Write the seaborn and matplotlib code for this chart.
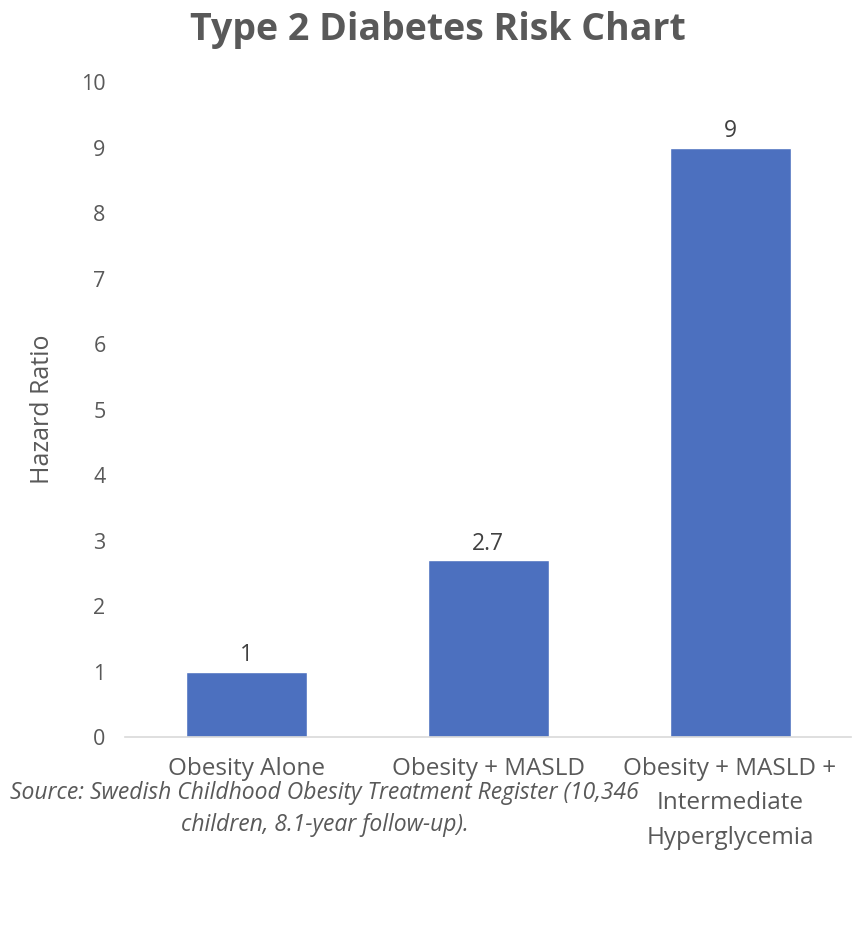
import matplotlib
matplotlib.use("Agg")
import matplotlib.pyplot as plt
import seaborn as sns
import pandas as pd

categories = ["Obesity Alone", "Obesity + MASLD", "Obesity + MASLD +\nIntermediate\nHyperglycemia"]
hazard_ratios = [1, 2.7, 9]
value_labels = ["1", "2.7", "9"]
yticks = list(range(0, 11))

sns.set_theme(style="white")
plt.rcParams['font.family'] = ['Open Sans', 'DejaVu Sans']

df = pd.DataFrame({"cat": categories, "hr": hazard_ratios})

fig = plt.figure(figsize=(8.64, 9.26), dpi=100)
ax = fig.add_axes([0.1447, 0.204, 0.8403, 0.7074])
sns.barplot(data=df, x="cat", y="hr", color="#4C70BF", saturation=1, width=0.5, ax=ax)

ax.set_xlim(-0.5, 2.5)
ax.set_ylim(0, 10)
ax.set_yticks(yticks)
ax.set_yticklabels([str(t) for t in yticks], fontsize=15.5, color="#595959")
ax.tick_params(axis='y', length=0, pad=14)
ax.tick_params(axis='x', length=0, pad=14, labelsize=17.5, labelcolor="#595959")
ax.set_xlabel("")
ax.set_ylabel("Hazard Ratio", fontsize=18, color="#595959")
ax.yaxis.set_label_coords(-0.097, 0.5)
for s in ["top", "right", "left"]:
    ax.spines[s].set_visible(False)
ax.spines["bottom"].set_color("#D9D9D9")
ax.spines["bottom"].set_linewidth(1.2)
for lbl in ax.get_xticklabels():
    lbl.set_linespacing(1.6)

for i, (v, t) in enumerate(zip(hazard_ratios, value_labels)):
    ax.annotate(t, (i, v), xytext=(0, 3), textcoords="offset points",
                ha="center", va="bottom", fontsize=16.5, color="#404040")

fig.text(0.507, 0.988, "Type 2 Diabetes Risk Chart", ha="center", va="top",
         fontsize=27, fontweight="bold", color="#595959")

fig.text(0.376, 0.157, "Source: Swedish Childhood Obesity Treatment Register (10,346\nchildren, 8.1-year follow-up).",
         ha="center", va="top", fontsize=16.5, style="italic", color="#595959", linespacing=1.45)

fig.savefig("out.png", dpi=100)
